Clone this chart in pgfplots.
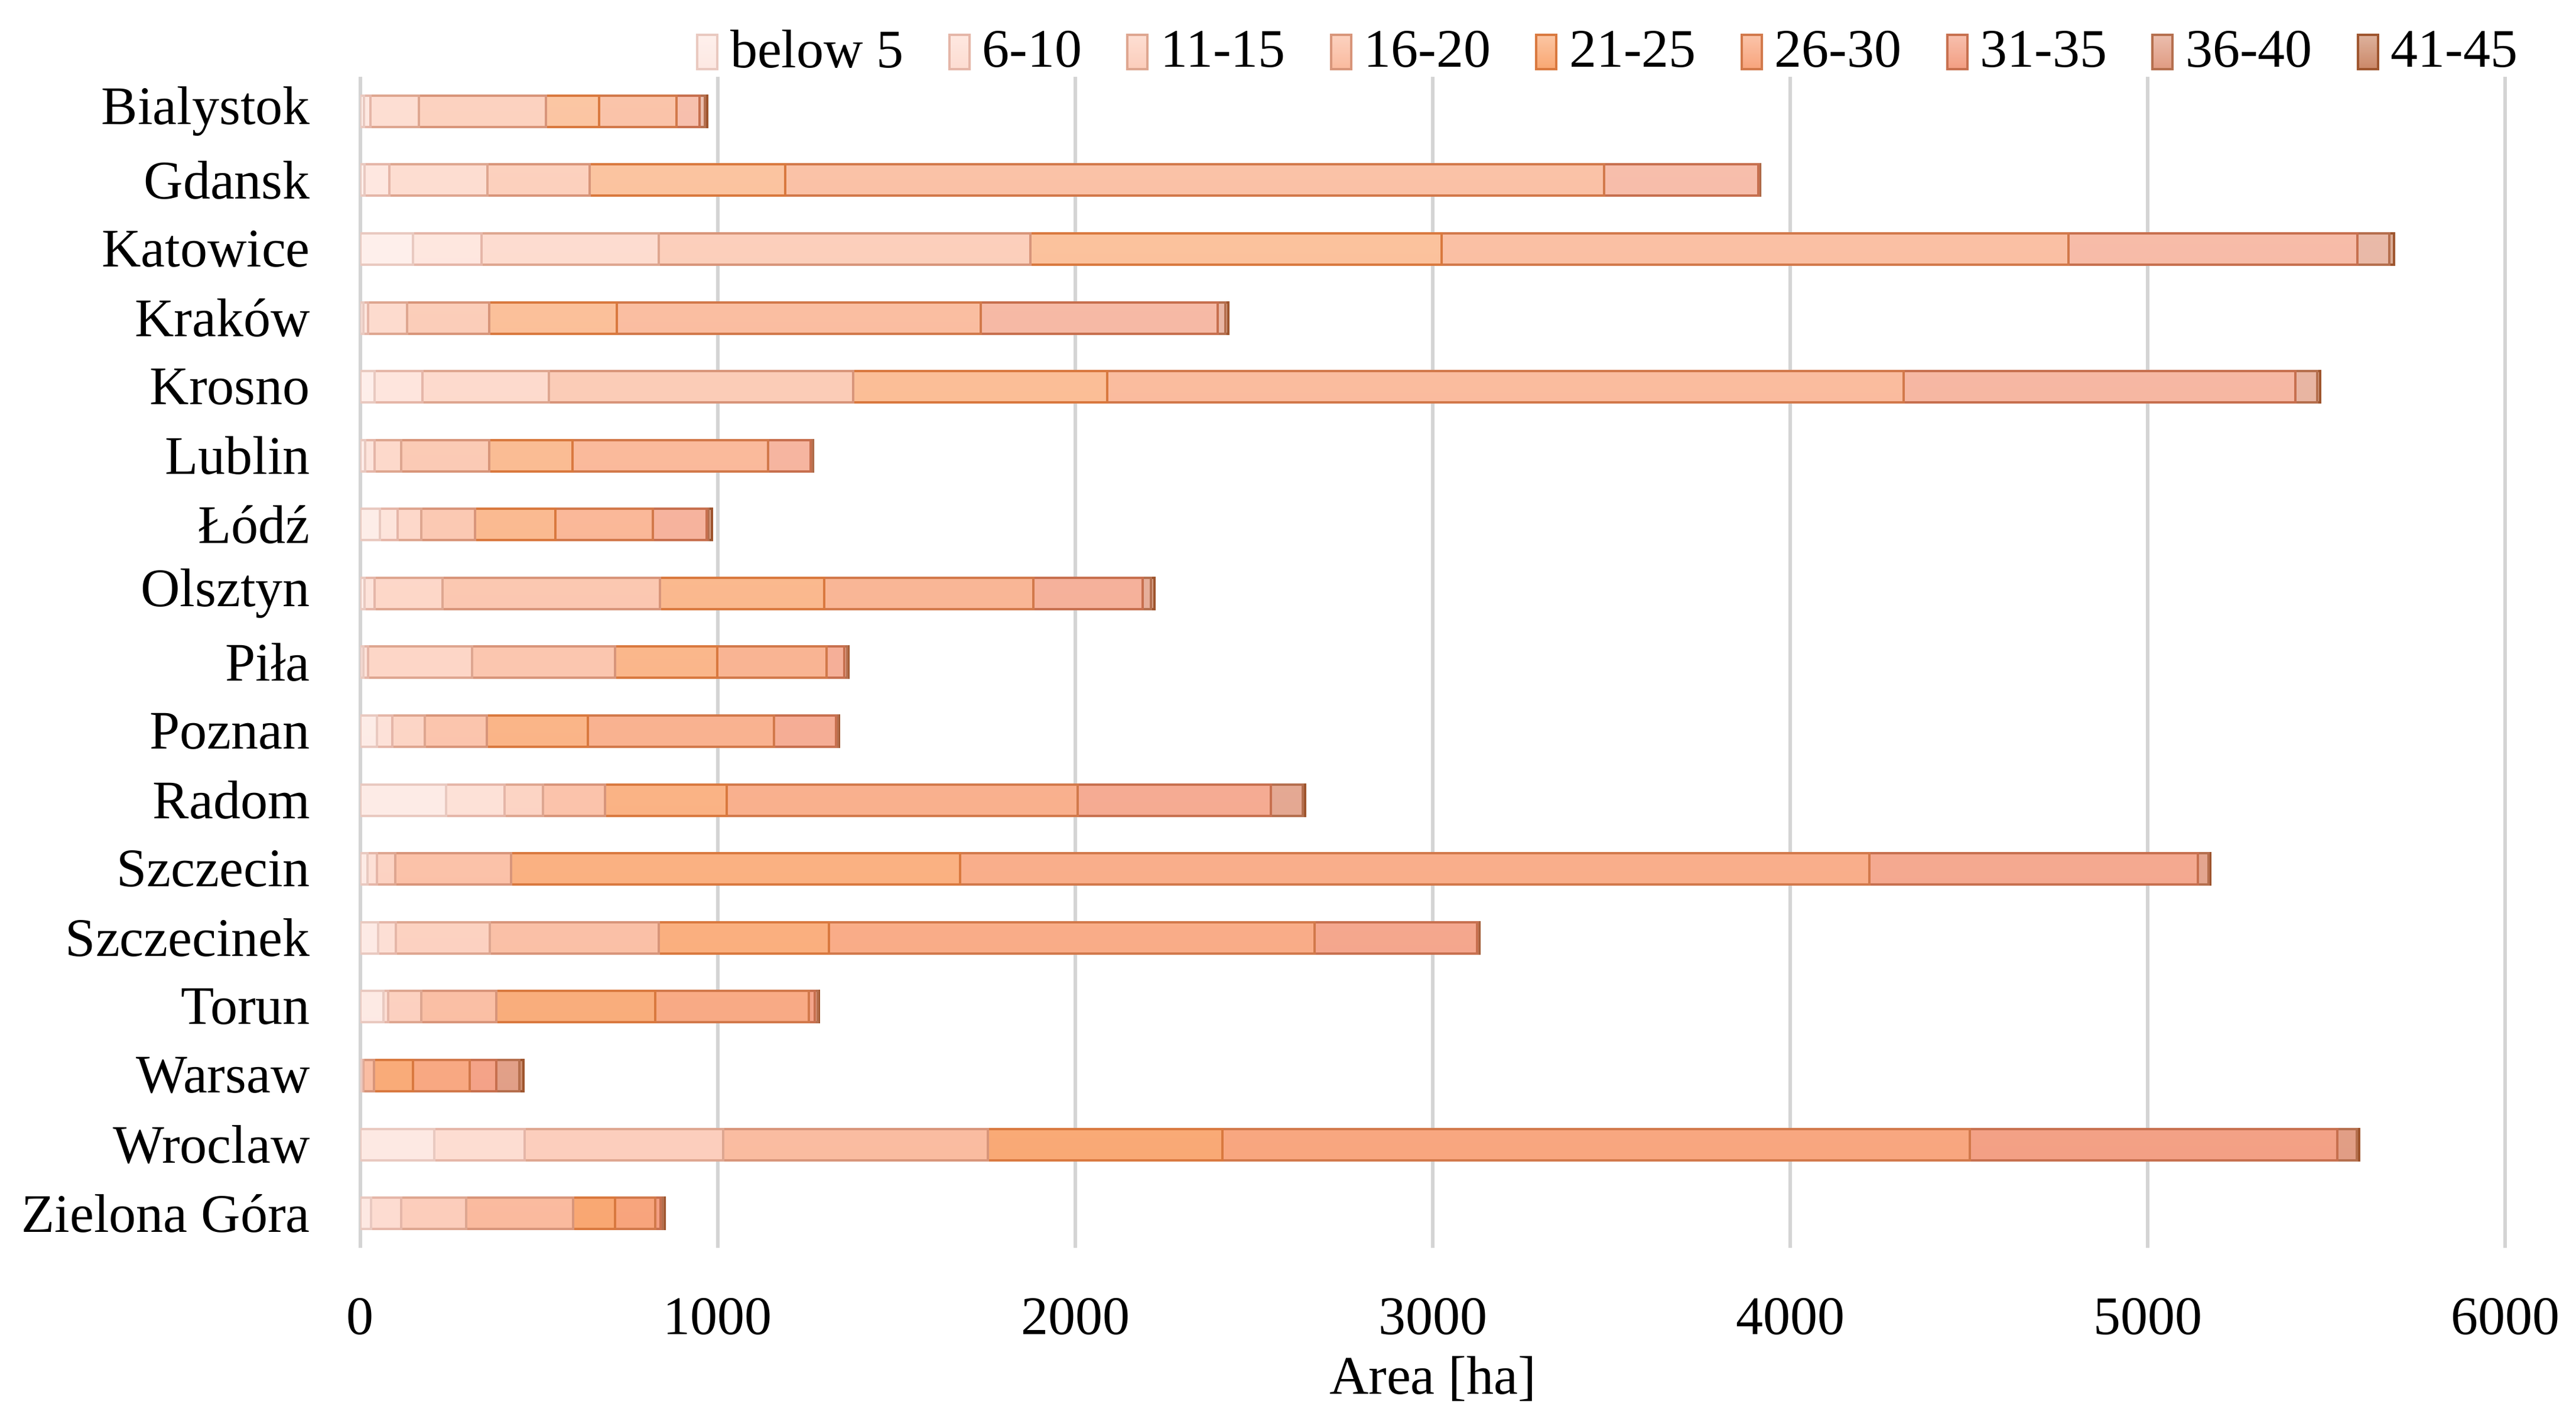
\documentclass[border=0pt]{standalone}
\usepackage{fontspec}
\setmainfont{Liberation Serif}
\usepackage{pgfplots}
\usepackage{pgfplotstable}
\pgfplotsset{compat=1.18}

% fill and border colours, light to dark
\definecolor{fA}{HTML}{FDE8E2}\definecolor{dA}{HTML}{E9C9C0}
\definecolor{fB}{HTML}{FDDCD1}\definecolor{dB}{HTML}{E5B6A8}
\definecolor{fC}{HTML}{FCCDBB}\definecolor{dC}{HTML}{DEA690}
\definecolor{fD}{HTML}{FABA9E}\definecolor{dD}{HTML}{D8957A}
\definecolor{fE}{HTML}{F9A772}\definecolor{dE}{HTML}{D9793F}
\definecolor{fF}{HTML}{F8A47C}\definecolor{dF}{HTML}{D2794B}
\definecolor{fG}{HTML}{F39E82}\definecolor{dG}{HTML}{C7704F}
\definecolor{fH}{HTML}{E09B82}\definecolor{dH}{HTML}{B56F4E}
\definecolor{fI}{HTML}{CB8868}\definecolor{dI}{HTML}{9E552E}

\pgfplotstableread{
y  a   b   c   d    e    f    g    h  i
0  10  18  135 356  149  216  65   15 6
1  11  70  274 287  546  2292 430  4  2
2  147 192 495 1040 1150 1755 808  89 13
3  8   13  109 231  357  1018 663  21 8
4  40  133 355 851  710  2229 1095 62 7
5  14  26  74  246  233  547  120  4  2
6  54  50  67  149  225  273  150  6  10
7  12  28  190 608  459  585  307  23 10
8  9   12  292 399  286  306  50   8  4
9  47  43  90  173  283  521  173  5  4
10 239 164 108 174  339  983  540  90 6
11 20  27  50  324  1256 2544 920  30 4
12 49  50  263 472  477  1358 455  4  2
13 64  14  93  209  445  429  17   8  4
14 2   3   4   29   109  159  74   65 12
15 206 253 556 740  656  2091 1028 55 6
16 30  84  182 299  117  113  14   8  4
}\datatable

\newcommand{\fnt}{\fontsize{9.2}{11}\selectfont}

\pgfplotsset{
  seg/.style n args={2}{top color=#1!65!white, bottom color=#1, draw=#2, line width=0.4pt},
}

\begin{document}
\begin{tikzpicture}
\begin{axis}[
    at={(0,0)}, anchor=south west,
    scale only axis,
    width=363pt, height=198.2pt,
    xbar stacked,
    bar width=5.3pt,
    xmin=0, xmax=6000,
    ymin=-0.5, ymax=16.5,
    y dir=reverse,
    xtick={0,1000,...,6000},
    ytick={0,...,16},
    yticklabels={Bialystok, Gdansk, Katowice, Kraków, Krosno, Lublin, Łódź, Olsztyn, Piła, Poznan, Radom, Szczecin, Szczecinek, Torun, Warsaw, Wroclaw, Zielona Góra},
    xmajorgrids=true,
    grid style={draw=black!17, line width=0.6pt},
    axis line style={draw=none},
    tick style={draw=none},
    /pgf/number format/1000 sep={},
    /pgf/number format/assume math mode=true,
    xticklabel style={font=\fnt, yshift=-5pt},
    yticklabel style={font=\fnt, xshift=-5pt},
    xlabel={Area [ha]},
    xlabel style={font=\fnt, yshift=3.2pt},
    legend columns=9,
    legend cell align=left,
    legend style={at={(1.012,1.0)}, anchor=south east, yshift=-2.2pt,
        draw=none, fill=none, font=\fnt, inner sep=0pt,
        /tikz/every even column/.append style={column sep=5.5pt}},
    legend image code/.code={\draw[#1] (0pt,-2.6pt) rectangle (3.4pt,3.2pt);},
]
\addplot[seg={fA}{dA}] table[x=a, y=y] {\datatable}; \addlegendentry{below 5}
\addplot[seg={fB}{dB}] table[x=b, y=y] {\datatable}; \addlegendentry{6-10}
\addplot[seg={fC}{dC}] table[x=c, y=y] {\datatable}; \addlegendentry{11-15}
\addplot[seg={fD}{dD}] table[x=d, y=y] {\datatable}; \addlegendentry{16-20}
\addplot[seg={fE}{dE}] table[x=e, y=y] {\datatable}; \addlegendentry{21-25}
\addplot[seg={fF}{dF}] table[x=f, y=y] {\datatable}; \addlegendentry{26-30}
\addplot[seg={fG}{dG}] table[x=g, y=y] {\datatable}; \addlegendentry{31-35}
\addplot[seg={fH}{dH}] table[x=h, y=y] {\datatable}; \addlegendentry{36-40}
\addplot[seg={fI}{dI}] table[x=i, y=y] {\datatable}; \addlegendentry{41-45}
\end{axis}
\pgfresetboundingbox
\path[use as bounding box] (-61pt,-28.8pt) rectangle (375pt,211.2pt);
\end{tikzpicture}
\end{document}
